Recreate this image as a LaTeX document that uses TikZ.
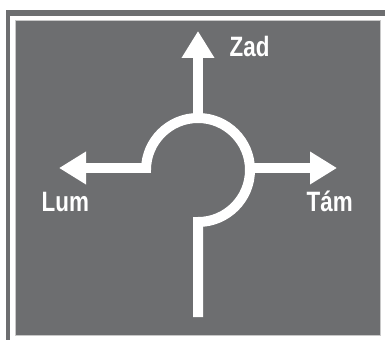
\documentclass[tikz,border=0pt]{standalone}
\usepackage{fontspec}
\newfontfamily\signfont{Liberation Sans}
\usetikzlibrary{arrows.meta}
\definecolor{signgray}{RGB}{109,110,112}
\definecolor{edgegray}{RGB}{200,200,200}
\newcommand{\signtext}[1]{\scalebox{0.8}[1]{#1}}
\tikzset{
  road/.style={white, line width=10pt},
  roadarrow/.style={road, -{Triangle[width=31pt,length=27pt]}},
  signlabel/.style={text=white, inner sep=0pt, anchor=base west, font=\signfont\bfseries\fontsize{28}{32}\selectfont}
}
\begin{document}
\begin{tikzpicture}[x=1pt,y=1pt]
    \useasboundingbox (0,0) rectangle (385,340);
    \fill[signgray] (6,324) rectangle (385,330);
    \fill[signgray] (6,0) rectangle (10,330);
    \filldraw[fill=signgray, draw=edgegray, line width=1pt] (15,5) rectangle (380,319);

    \coordinate (c) at (198,170);
    \coordinate (bottom) at (198,23);
    \coordinate (low) at (198,118);
    \coordinate (high) at (198,222);
    \coordinate (zad) at (198,309);
    \coordinate (west) at (151,172);
    \coordinate (lum) at (59,172);
    \coordinate (east) at (250,172);
    \coordinate (tam) at (337,172);

    \draw[road] (bottom) -- (low) arc[start angle=-90, end angle=180, radius=52pt];
    \foreach \a/\b in {high/zad, west/lum, east/tam} {
            \draw[roadarrow] (\a) -- (\b);
        }

    \node[signlabel] (zadtext) at (229.5,283) {\signtext{Zad}};
    \node[signlabel] (lumtext) at (41.5,128) {\signtext{Lum}};
    \node[signlabel] (tamtext) at (306.5,128) {\signtext{Tám}};
\end{tikzpicture}
\end{document}
